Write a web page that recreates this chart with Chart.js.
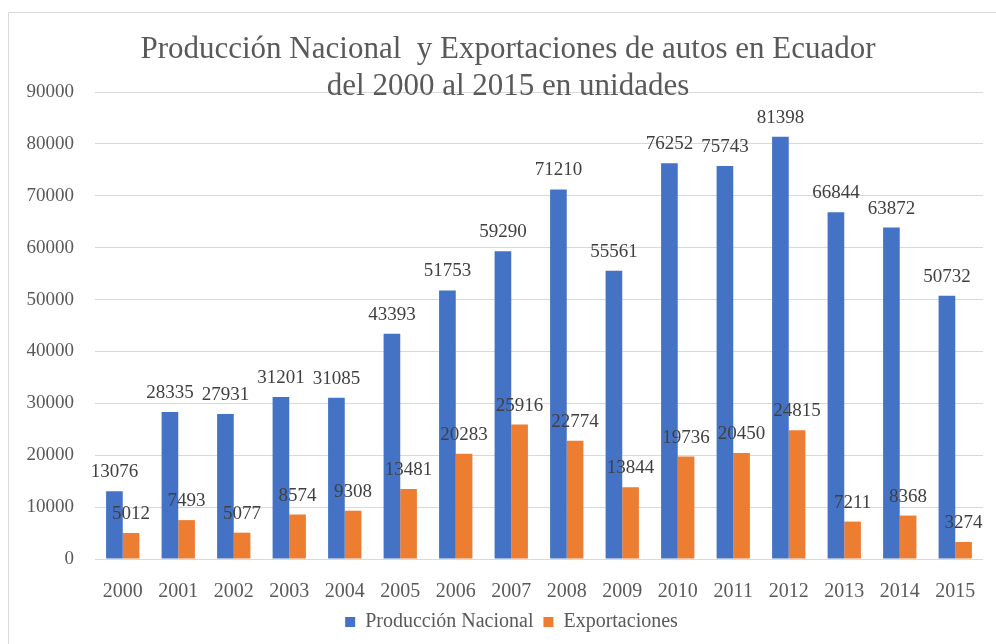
<!DOCTYPE html>
<html>
<head>
<meta charset="utf-8">
<script src="https://cdn.jsdelivr.net/npm/chart.js@4"></script>
<style>
  html, body { margin: 0; padding: 0; background: #fff; }
  #wrap { width: 996px; height: 644px; }
</style>
</head>
<body>
<div id="wrap"><canvas id="barChart" width="996" height="644"></canvas></div>
<script>
const years = ["2000", "2001", "2002", "2003", "2004", "2005", "2006", "2007",
  "2008", "2009", "2010", "2011", "2012", "2013", "2014", "2015"];
const produccion = [13076, 28335, 27931, 31201, 31085, 43393, 51753, 59290,
  71210, 55561, 76252, 75743, 81398, 66844, 63872, 50732];
const exportaciones = [5012, 7493, 5077, 8574, 9308, 13481, 20283, 25916,
  22774, 13844, 19736, 20450, 24815, 7211, 8368, 3274];
const titleLines = ["Producción Nacional  y Exportaciones de autos en Ecuador",
  "del 2000 al 2015 en unidades"];

const serif = "'Liberation Serif', 'Times New Roman', serif";

// frame, title and value labels
const decor = {
  id: "decor",
  afterLayout(chart) {
    // legend sits a little right of centre in the original
    if (chart.legend) {
      chart.legend.left += 20;
      chart.legend.right += 20;
    }
  },
  beforeDraw(chart) {
    const c = chart.ctx;
    c.save();
    c.fillStyle = "#fff";
    c.fillRect(0, 0, chart.width, chart.height);
    c.strokeStyle = "#d9d9d9";
    c.lineWidth = 1;
    c.beginPath();
    c.moveTo(8.5, chart.height);
    c.lineTo(8.5, 12.5);
    c.lineTo(chart.width, 12.5);
    c.stroke();
    c.restore();
  },
  afterDatasetsDraw(chart) {
    const c = chart.ctx;
    c.save();
    c.font = "19px " + serif;
    c.fillStyle = "#404040";
    c.textAlign = "center";
    c.textBaseline = "alphabetic";
    chart.data.datasets.forEach((ds, i) => {
      chart.getDatasetMeta(i).data.forEach((bar, j) => {
        c.fillText(String(ds.data[j]), bar.x, bar.y - 14);
      });
    });
    c.fillStyle = "#595959";
    c.font = "31px " + serif;
    c.fillText(titleLines[0], 508, 58);
    c.fillText(titleLines[1], 508, 95);
    c.restore();
  }
};

new Chart(document.getElementById("barChart").getContext("2d"), {
  type: "bar",
  data: {
    labels: years,
    datasets: [{
      label: "Producción Nacional",
      data: produccion,
      backgroundColor: "#4472c4"
    }, {
      label: "Exportaciones",
      data: exportaciones,
      backgroundColor: "#ed7d31"
    }]
  },
  options: {
    responsive: false,
    animation: false,
    layout: { padding: { top: 92, right: 13, bottom: 2, left: 0 } },
    datasets: { bar: { categoryPercentage: 0.6, barPercentage: 1.0 } },
    plugins: {
      title: { display: false },
      tooltip: { enabled: false },
      legend: {
        position: "bottom",
        labels: {
          boxWidth: 10,
          boxHeight: 10,
          padding: 10,
          color: "#595959",
          font: { family: serif, size: 20 }
        }
      }
    },
    scales: {
      x: {
        grid: { display: false },
        border: { display: false },
        ticks: { color: "#595959", padding: 13, font: { family: serif, size: 20 } },
        afterFit(scale) { scale.height = 43; }
      },
      y: {
        min: 0,
        max: 90000,
        grid: { color: "#d9d9d9", drawTicks: false },
        border: { display: false },
        ticks: {
          stepSize: 10000,
          color: "#595959",
          padding: 21,
          font: { family: serif, size: 19 },
          callback: v => String(v)
        },
        afterFit(scale) { scale.width = 95; }
      }
    }
  },
  plugins: [decor]
});
</script>
</body>
</html>
